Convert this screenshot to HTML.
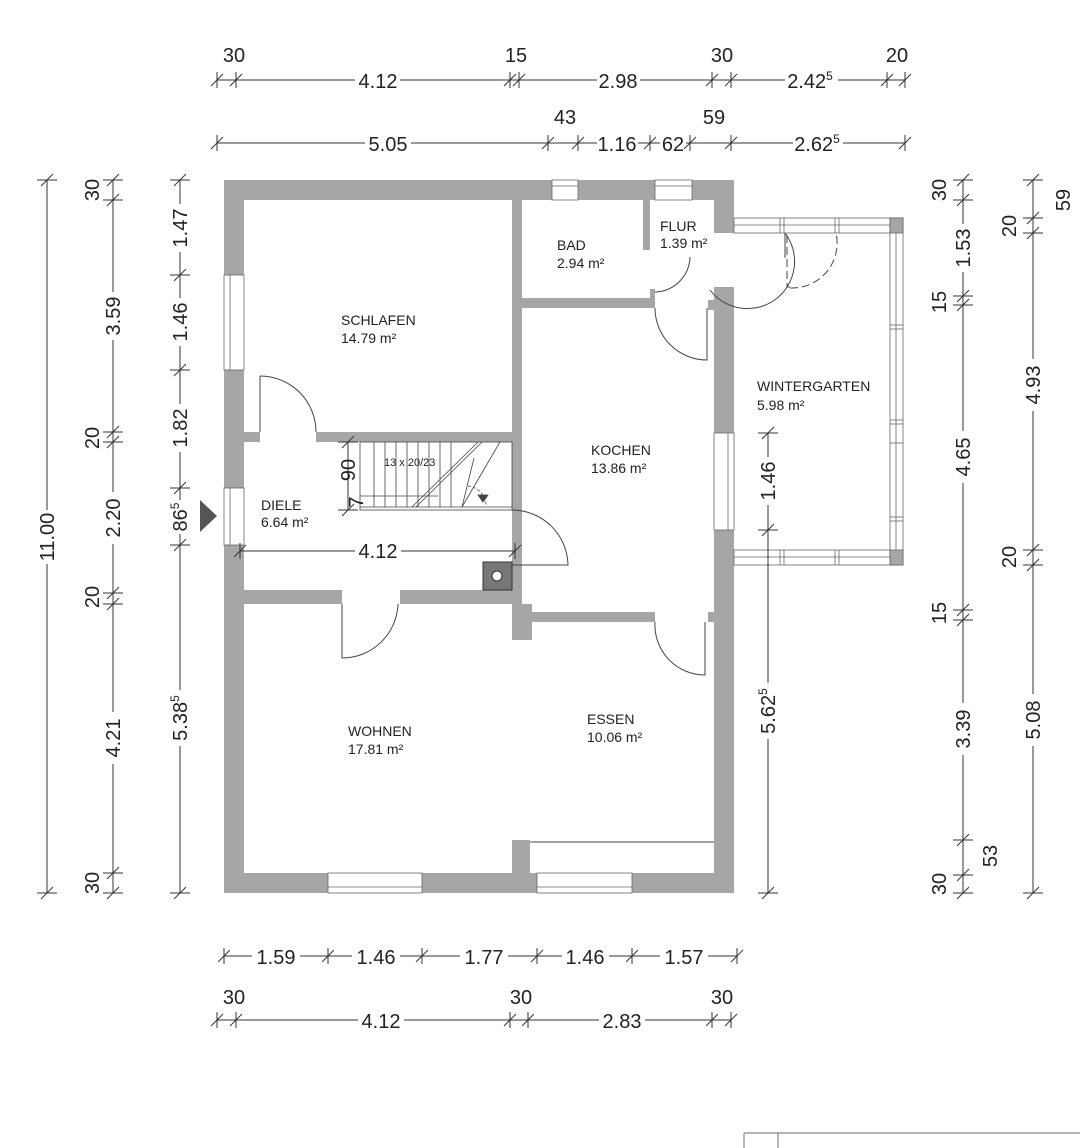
<!DOCTYPE html>
<html><head><meta charset="utf-8"><style>
html,body{margin:0;padding:0;background:#fff}
svg{display:block}
text{font-family:"Liberation Sans",sans-serif;fill:#222}
.d{font-size:20px}
.r{font-size:14px}
</style></head><body>
<svg id="s" width="1080" height="1148" viewBox="0 0 1080 1148" xmlns="http://www.w3.org/2000/svg">
<g id="plan" fill="#a6a6a6" stroke="none">
<rect x="224" y="180" width="510" height="20"/>
<rect x="224" y="180" width="20" height="713"/>
<rect x="224" y="873" width="510" height="20"/>
<rect x="714" y="180" width="20" height="53"/>
<rect x="714" y="287" width="20" height="606"/>
<rect x="512" y="200" width="10" height="410"/>
<rect x="522" y="298" width="133" height="10"/>
<rect x="643" y="200" width="7" height="50"/>
<rect x="650" y="289" width="5" height="19"/>
<rect x="708" y="300" width="6" height="10"/>
<rect x="316" y="432" width="196" height="10"/>
<rect x="244" y="432" width="16" height="10"/>
<rect x="244" y="590" width="98" height="14"/>
<rect x="400" y="590" width="112" height="14"/>
<rect x="512" y="604" width="20" height="36"/>
<rect x="532" y="612" width="123" height="10"/>
<rect x="708" y="612" width="6" height="10"/>
<rect x="512" y="840" width="18" height="33"/>
</g>
<g fill="#fff" stroke="#666" stroke-width="0.8">
<rect x="552" y="180" width="26" height="20"/><line x1="552" y1="186" x2="578" y2="186"/>
<rect x="655" y="180" width="37" height="20"/><line x1="655" y1="186" x2="692" y2="186"/>
<rect x="224" y="275" width="20" height="95"/><line x1="230" y1="275" x2="230" y2="370"/>
<rect x="224" y="488" width="20" height="57"/><line x1="230" y1="488" x2="230" y2="545"/>
<rect x="714" y="433" width="20" height="97"/><line x1="728" y1="433" x2="728" y2="530"/>
<rect x="328" y="873" width="94" height="20"/><line x1="328" y1="887" x2="422" y2="887"/>
<rect x="537" y="873" width="95" height="20"/><line x1="537" y1="887" x2="632" y2="887"/>
<rect x="734" y="218" width="169" height="15"/><line x1="734" y1="225" x2="890" y2="225"/>
<rect x="734" y="550" width="169" height="15"/><line x1="734" y1="557" x2="890" y2="557"/>
<rect x="890" y="218" width="13" height="347"/><line x1="896" y1="233" x2="896" y2="550"/>
<rect x="890" y="218" width="13" height="15" fill="#a6a6a6"/>
<rect x="890" y="550" width="13" height="15" fill="#a6a6a6"/>
<line x1="780" y1="218" x2="780" y2="233"/><line x1="784" y1="218" x2="784" y2="233"/>
<line x1="835" y1="218" x2="835" y2="233"/><line x1="839" y1="218" x2="839" y2="233"/>
<line x1="780" y1="550" x2="780" y2="565"/><line x1="784" y1="550" x2="784" y2="565"/>
<line x1="835" y1="550" x2="835" y2="565"/><line x1="839" y1="550" x2="839" y2="565"/>
<line x1="890" y1="325" x2="903" y2="325"/><line x1="890" y1="329" x2="903" y2="329"/>
<line x1="890" y1="420" x2="903" y2="420"/><line x1="890" y1="424" x2="903" y2="424"/>
<line x1="890" y1="443" x2="903" y2="443"/><line x1="890" y1="517" x2="903" y2="517"/><line x1="890" y1="521" x2="903" y2="521"/>
</g>
<g fill="none" stroke="#444" stroke-width="1">
<path d="M260 376 L260 432 M260 376 A56 56 0 0 1 316 432"/>
<path d="M690 257 A36 36 0 0 1 655 292 M710 290 A36 36 0 0 0 785 233 M785 233 L785 258"/>
<path d="M787 235 L787 287 L790 287 M790 288 A45 45 0 0 0 836 233" stroke-dasharray="8 4"/>
<path d="M655 308 A52 52 0 0 0 707 360 L707 308"/>
<path d="M512 510 A56 56 0 0 1 568 565 L512 565"/>
<path d="M342 604 L342 658 A56 56 0 0 0 398 604"/>
<path d="M655 622 A50 50 0 0 0 705 675 L705 622"/>
<line x1="530" y1="842" x2="714" y2="842"/>
</g>
<g stroke="#444" stroke-width="0.8" fill="none">
<rect x="360" y="442" width="152" height="68"/>
<line x1="360" y1="507" x2="512" y2="507"/>
<path d="M374 442V507M385 442V507M396 442V507M407 442V507M418 442V507M429 442V507M440 442V507M451 442V507"/>
<path d="M412 507 L478 442 M416 507 L482 442 M462 507 L474 458 M462 507 L500 442"/>
<line x1="360" y1="496" x2="438" y2="496"/>
<path d="M468 486 A20 20 0 0 1 486 506" stroke-dasharray="3 2"/>
<path d="M478 495 L483 502 L488 495Z" fill="#444"/>
</g>
<rect x="483" y="562" width="29" height="28" fill="#777" stroke="#333"/>
<circle cx="497" cy="576" r="5" fill="#fff" stroke="#333"/>
<path d="M200 500 L217 516 L200 532 Z" fill="#555"/>
<text class="r" x="341" y="325">SCHLAFEN</text><text class="r" x="341" y="343">14.79 m²</text>
<text class="r" x="557" y="250">BAD</text><text class="r" x="557" y="268">2.94 m²</text>
<text class="r" x="660" y="231">FLUR</text><text class="r" x="660" y="248">1.39 m²</text>
<text class="r" x="591" y="455">KOCHEN</text><text class="r" x="591" y="473">13.86 m²</text>
<text class="r" x="757" y="391">WINTERGARTEN</text><text class="r" x="757" y="410">5.98 m²</text>
<text class="r" x="261" y="510">DIELE</text><text class="r" x="261" y="527">6.64 m²</text>
<text class="r" x="348" y="736">WOHNEN</text><text class="r" x="348" y="754">17.81 m²</text>
<text class="r" x="587" y="724">ESSEN</text><text class="r" x="587" y="742">10.06 m²</text>
<text x="384" y="466" font-size="11">13 x 20/23</text>
<g id="dims" stroke="#333" stroke-width="1"></g>
<g class="d" text-anchor="middle">
<text x="234" y="62">30</text><text x="378" y="88">4.12</text><text x="516" y="62">15</text><text x="618" y="88">2.98</text><text x="722" y="62">30</text><text x="810" y="88">2.42<tspan font-size="12" dy="-8">5</tspan></text><text x="897" y="62">20</text>
<text x="388" y="151">5.05</text><text x="565" y="124">43</text><text x="617" y="151">1.16</text><text x="673" y="151">62</text><text x="714" y="124">59</text><text x="817" y="151">2.62<tspan font-size="12" dy="-8">5</tspan></text>
<text x="378" y="558">4.12</text>
<text x="276" y="964">1.59</text><text x="376" y="964">1.46</text><text x="484" y="964">1.77</text><text x="585" y="964">1.46</text><text x="684" y="964">1.57</text>
<text x="234" y="1004">30</text><text x="381" y="1028">4.12</text><text x="521" y="1004">30</text><text x="622" y="1028">2.83</text><text x="722" y="1004">30</text>
</g>
<g class="d" text-anchor="middle">
<text transform="translate(54,537) rotate(-90)">11.00</text>
<text transform="translate(99,190) rotate(-90)">30</text>
<text transform="translate(120,316) rotate(-90)">3.59</text>
<text transform="translate(99,438) rotate(-90)">20</text>
<text transform="translate(120,518) rotate(-90)">2.20</text>
<text transform="translate(99,597) rotate(-90)">20</text>
<text transform="translate(120,738) rotate(-90)">4.21</text>
<text transform="translate(99,883) rotate(-90)">30</text>
<text transform="translate(187,228) rotate(-90)">1.47</text>
<text transform="translate(187,322) rotate(-90)">1.46</text>
<text transform="translate(187,428) rotate(-90)">1.82</text>
<text transform="translate(187,517) rotate(-90)">86<tspan font-size="12" dy="-8">5</tspan></text>
<text transform="translate(187,718) rotate(-90)">5.38<tspan font-size="12" dy="-8">5</tspan></text>
<text transform="translate(355,470) rotate(-90)">90</text>
<text transform="translate(363,502) rotate(-90)">7</text>
<text transform="translate(775,481) rotate(-90)">1.46</text>
<text transform="translate(775,711) rotate(-90)">5.62<tspan font-size="12" dy="-8">5</tspan></text>
<text transform="translate(946,190) rotate(-90)">30</text>
<text transform="translate(970,248) rotate(-90)">1.53</text>
<text transform="translate(946,302) rotate(-90)">15</text>
<text transform="translate(970,457) rotate(-90)">4.65</text>
<text transform="translate(946,613) rotate(-90)">15</text>
<text transform="translate(970,729) rotate(-90)">3.39</text>
<text transform="translate(997,856) rotate(-90)">53</text>
<text transform="translate(946,884) rotate(-90)">30</text>
<text transform="translate(1070,200) rotate(-90)">59</text>
<text transform="translate(1016,226) rotate(-90)">20</text>
<text transform="translate(1040,385) rotate(-90)">4.93</text>
<text transform="translate(1016,557) rotate(-90)">20</text>
<text transform="translate(1040,720) rotate(-90)">5.08</text>
</g>
<g stroke="#888" stroke-width="1.2" fill="none">
<line x1="744" y1="1133" x2="1080" y2="1133"/><line x1="744" y1="1133" x2="744" y2="1148"/><line x1="778" y1="1133" x2="778" y2="1148"/>
</g>
</svg>
<script>
var g=document.getElementById('dims'),N='http://www.w3.org/2000/svg';
function L(a,b,c,d){var l=document.createElementNS(N,'line');l.setAttribute('x1',a);l.setAttribute('y1',b);l.setAttribute('x2',c);l.setAttribute('y2',d);g.appendChild(l);}
function H(y,ticks,gaps){var a=ticks[0],b=ticks[ticks.length-1],s=a;
 gaps.forEach(function(p){L(s,y,p[0],y);s=p[1];});L(s,y,b,y);
 ticks.forEach(function(x){L(x,y-8,x,y+8);L(x-6,y+6,x+6,y-6);});}
function V(x,ticks,gaps){var a=ticks[0],b=ticks[ticks.length-1],s=a;
 gaps.forEach(function(p){L(x,s,x,p[0]);s=p[1];});L(x,s,x,b);
 ticks.forEach(function(y){L(x-10,y,x+10,y);L(x-6,y+6,x+6,y-6);});}
H(80,[217,236,510,519,712,731,887,905],[[355,400],[597,640],[785,838]]);
H(143,[217,548,578,650,690,731,905],[[365,411],[597,638],[660,686],[793,843]]);
H(551,[240,515],[[355,401]]);
H(956,[224,328,422,537,632,737],[[252,300],[352,400],[460,508],[562,609],[660,708]]);
H(1020,[217,236,510,528,712,731],[[358,404],[599,645]]);
V(47,[180,893],[[510,564]]);
V(113,[180,200,432,442,593,604,873,893],[[292,340],[492,544],[712,764]]);
V(180,[180,275,370,488,545,893],[[204,252],[298,346],[404,452],[500,534],[690,746]]);
V(348,[442,510],[]);
V(768,[433,530,893],[[457,505],[683,739]]);
V(963,[180,200,296,305,610,620,840,875,893],[[224,272],[431,483],[703,755]]);
V(1033,[180,218,233,550,565,893],[[359,411],[694,746]]);
</script>
</body></html>
